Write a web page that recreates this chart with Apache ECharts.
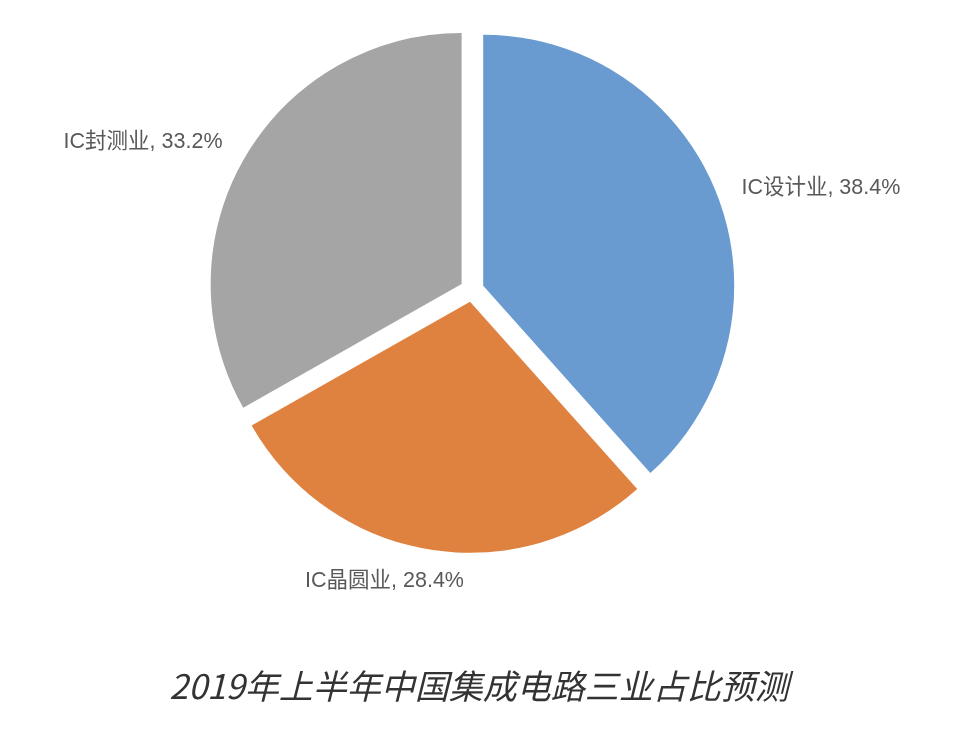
<!DOCTYPE html>
<html>
<head>
<meta charset="utf-8">
<script src="https://cdn.jsdelivr.net/npm/echarts@6/dist/echarts.min.js"></script>
<style>html,body{margin:0;padding:0;background:#fff}#c{width:958px;height:732px}</style>
</head>
<body>
<div id="c"></div>
<script>
var categories = ['IC设计业', 'IC晶圆业', 'IC封测业'];
var shares = [38.4, 28.4, 33.2];
var colors = ['#699BD0', '#DF8240', '#A5A5A5'];
var titleText = '2019年上半年中国集成电路三业占比预测';

var chart = echarts.init(document.getElementById('c'), null, {renderer: 'canvas'});
var data = categories.map(function (n, i) {
  return { name: n, value: shares[i], selected: true, itemStyle: { color: colors[i] } };
});
var labelShift = [[0, -1], [43, 12], [0, -5]];
chart.setOption({
  animation: false,
  title: {
    text: titleText, left: 'center', top: 664,
    textStyle: { fontFamily: '"Noto Sans CJK SC", sans-serif', fontStyle: 'italic', fontWeight: 'normal', fontSize: 34, color: '#333333' }
  },
  series: [{
    type: 'pie',
    center: [472, 290],
    radius: [0, 251],
    startAngle: 90,
    clockwise: true,
    selectedMode: 'multiple',
    selectedOffset: 12,
    data: data,
    label: {
      show: true, position: 'outside',
      formatter: function (p) { return p.name + ', ' + p.value.toFixed(1) + '%'; },
      fontFamily: '"Liberation Sans", "Noto Sans CJK SC", sans-serif', fontSize: 21.5, color: '#595959'
    },
    labelLine: { show: false, length: 20, length2: 0 },
    labelLayout: function (p) {
      var s = labelShift[p.dataIndex];
      return { dx: s[0], dy: s[1] };
    },
    emphasis: { disabled: true }
  }]
});
</script>
</body>
</html>
